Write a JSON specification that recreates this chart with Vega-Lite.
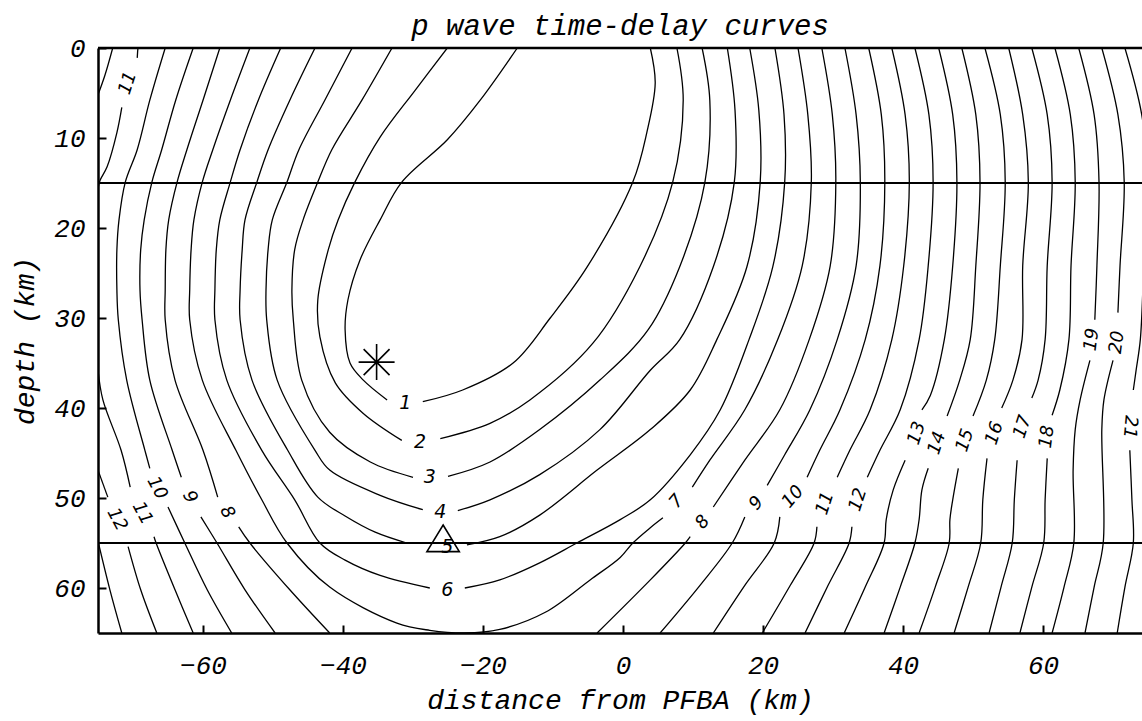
{
"$schema":"https://vega.github.io/schema/vega-lite/v6.json",
"autosize":{"type":"none"},
"padding":{"left":98,"top":48,"right":0,"bottom":88},
"width":1044,"height":585,
"background":"white",
"config":{"view":{"stroke":null},
"axis":{"domainColor":"black","domainWidth":2.5,"tickColor":"black","tickWidth":2,"tickSize":-8,"grid":false,"labelFont":"Liberation Mono","labelFontStyle":"italic","labelFontSize":26,"labelColor":"black","titleFont":"Liberation Mono","titleFontStyle":"italic","titleFontWeight":"normal","titleFontSize":28,"titleColor":"black"}},
"title":{"text":"p wave time-delay curves","font":"Liberation Mono","fontStyle":"italic","fontWeight":"normal","fontSize":29,"color":"black","anchor":"middle","offset":-6},
"datasets":{
"c":[
{"s":"1a","o":0,"x":-15.1,"z":0},{"s":"1a","o":1,"x":-20.4,"z":5.8},{"s":"1a","o":2,"x":-25.1,"z":10.2},{"s":"1a","o":3,"x":-31.6,"z":14.9},{"s":"1a","o":4,"x":-34.7,"z":19.1},{"s":"1a","o":5,"x":-37.6,"z":23.6},{"s":"1a","o":6,"x":-39.3,"z":28},{"s":"1a","o":7,"x":-39.7,"z":31.3},{"s":"1a","o":8,"x":-39,"z":35},{"s":"1a","o":9,"x":-37.1,"z":36.9},{"s":"1a","o":10,"x":-33.7,"z":39.1},
{"s":"1b","o":0,"x":-28.6,"z":39.3},{"s":"1b","o":1,"x":-22.9,"z":38},{"s":"1b","o":2,"x":-15.7,"z":35},{"s":"1b","o":3,"x":-10.4,"z":30},{"s":"1b","o":4,"x":-5.1,"z":24.3},{"s":"1b","o":5,"x":1.4,"z":14.9},{"s":"1b","o":6,"x":3.4,"z":9.4},{"s":"1b","o":7,"x":4.6,"z":3.9},{"s":"1b","o":8,"x":3.9,"z":0},
{"s":"2a","o":0,"x":-25.1,"z":0},{"s":"2a","o":1,"x":-29.7,"z":4.7},{"s":"2a","o":2,"x":-34.7,"z":9.9},{"s":"2a","o":3,"x":-38.3,"z":14.9},{"s":"2a","o":4,"x":-40.7,"z":19.1},{"s":"2a","o":5,"x":-42.1,"z":22.4},{"s":"2a","o":6,"x":-43.6,"z":28},{"s":"2a","o":7,"x":-43.3,"z":32.1},{"s":"2a","o":8,"x":-41.1,"z":37.2},{"s":"2a","o":9,"x":-37.1,"z":40.6},{"s":"2a","o":10,"x":-31.6,"z":43.6},
{"s":"2b","o":0,"x":-26.1,"z":43.4},{"s":"2b","o":1,"x":-19,"z":41.7},{"s":"2b","o":2,"x":-13.3,"z":39.1},{"s":"2b","o":3,"x":-4.3,"z":32.8},{"s":"2b","o":4,"x":2.4,"z":24.3},{"s":"2b","o":5,"x":7.1,"z":14.9},{"s":"2b","o":6,"x":8.6,"z":5.8},{"s":"2b","o":7,"x":7.7,"z":0},
{"s":"3a","o":0,"x":-33,"z":0},{"s":"3a","o":1,"x":-37.3,"z":5.8},{"s":"3a","o":2,"x":-41.6,"z":11.3},{"s":"3a","o":3,"x":-43.6,"z":14.9},{"s":"3a","o":4,"x":-45.7,"z":19.1},{"s":"3a","o":5,"x":-46.9,"z":22.4},{"s":"3a","o":6,"x":-47.3,"z":26.9},{"s":"3a","o":7,"x":-47.1,"z":30.2},{"s":"3a","o":8,"x":-45.9,"z":36.9},{"s":"3a","o":9,"x":-41.9,"z":42.7},{"s":"3a","o":10,"x":-36.1,"z":46},{"s":"3a","o":11,"x":-30,"z":47.7},
{"s":"3b","o":0,"x":-25,"z":47.6},{"s":"3b","o":1,"x":-19,"z":46},{"s":"3b","o":2,"x":-11.9,"z":42.4},{"s":"3b","o":3,"x":-3.3,"z":36.9},{"s":"3b","o":4,"x":3.6,"z":31.3},{"s":"3b","o":5,"x":8.1,"z":24.3},{"s":"3b","o":6,"x":11.7,"z":14.9},{"s":"3b","o":7,"x":12.4,"z":5.8},{"s":"3b","o":8,"x":11.3,"z":0},
{"s":"4a","o":0,"x":-38.7,"z":0},{"s":"4a","o":1,"x":-42.6,"z":5.8},{"s":"4a","o":2,"x":-46.3,"z":11.3},{"s":"4a","o":3,"x":-48,"z":14.9},{"s":"4a","o":4,"x":-50.1,"z":19.1},{"s":"4a","o":5,"x":-50.7,"z":22.4},{"s":"4a","o":6,"x":-51,"z":26.9},{"s":"4a","o":7,"x":-50.9,"z":30.2},{"s":"4a","o":8,"x":-49.4,"z":36.9},{"s":"4a","o":9,"x":-44,"z":44.7},{"s":"4a","o":10,"x":-41.9,"z":46.9},{"s":"4a","o":11,"x":-34.7,"z":49.7},{"s":"4a","o":12,"x":-28.6,"z":51.3},
{"s":"4b","o":0,"x":-23.6,"z":51.4},{"s":"4b","o":1,"x":-19,"z":50.2},{"s":"4b","o":2,"x":-11.9,"z":47.4},{"s":"4b","o":3,"x":-3.3,"z":42.4},{"s":"4b","o":4,"x":3.9,"z":35.8},{"s":"4b","o":5,"x":8.1,"z":32.4},{"s":"4b","o":6,"x":12.9,"z":24.3},{"s":"4b","o":7,"x":15.9,"z":14.9},{"s":"4b","o":8,"x":16,"z":6.9},{"s":"4b","o":9,"x":14.9,"z":0},
{"s":"5a","o":0,"x":-44,"z":0},{"s":"5a","o":1,"x":-47.6,"z":5.8},{"s":"5a","o":2,"x":-50.7,"z":11.3},{"s":"5a","o":3,"x":-52.3,"z":14.9},{"s":"5a","o":4,"x":-54,"z":19.1},{"s":"5a","o":5,"x":-54.4,"z":22.4},{"s":"5a","o":6,"x":-54.7,"z":26.9},{"s":"5a","o":7,"x":-54.7,"z":30.2},{"s":"5a","o":8,"x":-53,"z":36.9},{"s":"5a","o":9,"x":-47.9,"z":44.7},{"s":"5a","o":10,"x":-43.6,"z":49.9},{"s":"5a","o":11,"x":-39.7,"z":52},{"s":"5a","o":12,"x":-35.4,"z":53.8},{"s":"5a","o":13,"x":-30.9,"z":55},
{"s":"5b","o":0,"x":-22.3,"z":55.2},{"s":"5b","o":1,"x":-17.6,"z":54.3},{"s":"5b","o":2,"x":-11.9,"z":51.9},{"s":"5b","o":3,"x":-3.7,"z":46.9},{"s":"5b","o":4,"x":3.9,"z":42.4},{"s":"5b","o":5,"x":9.6,"z":38},{"s":"5b","o":6,"x":13.4,"z":32.4},{"s":"5b","o":7,"x":17.7,"z":24.3},{"s":"5b","o":8,"x":19.6,"z":14.9},{"s":"5b","o":9,"x":19.4,"z":6.9},{"s":"5b","o":10,"x":18.1,"z":0},
{"s":"6a","o":0,"x":-48.9,"z":0},{"s":"6a","o":1,"x":-52.1,"z":5.8},{"s":"6a","o":2,"x":-54.7,"z":11.3},{"s":"6a","o":3,"x":-56.1,"z":14.9},{"s":"6a","o":4,"x":-57.6,"z":19.1},{"s":"6a","o":5,"x":-58.1,"z":22.4},{"s":"6a","o":6,"x":-58.3,"z":26.9},{"s":"6a","o":7,"x":-58.3,"z":30.2},{"s":"6a","o":8,"x":-56.6,"z":36.9},{"s":"6a","o":9,"x":-51.6,"z":44.7},{"s":"6a","o":10,"x":-46.9,"z":50.2},{"s":"6a","o":11,"x":-43.3,"z":55},{"s":"6a","o":12,"x":-39.7,"z":56.9},{"s":"6a","o":13,"x":-34.7,"z":58.6},{"s":"6a","o":14,"x":-27.6,"z":60},
{"s":"6b","o":0,"x":-22.6,"z":60},{"s":"6b","o":1,"x":-17.6,"z":59.1},{"s":"6b","o":2,"x":-11.9,"z":57.2},{"s":"6b","o":3,"x":-6.6,"z":55},{"s":"6b","o":4,"x":-0.4,"z":52.4},{"s":"6b","o":5,"x":3.9,"z":50.2},{"s":"6b","o":6,"x":9.6,"z":45.2},{"s":"6b","o":7,"x":13.9,"z":40.2},{"s":"6b","o":8,"x":18,"z":32.4},{"s":"6b","o":9,"x":21.4,"z":24.3},{"s":"6b","o":10,"x":23.1,"z":14.9},{"s":"6b","o":11,"x":23,"z":7.4},{"s":"6b","o":12,"x":21.7,"z":0},
{"s":"7a","o":0,"x":-53.3,"z":0},{"s":"7a","o":1,"x":-56.1,"z":5.8},{"s":"7a","o":2,"x":-58.6,"z":11.3},{"s":"7a","o":3,"x":-60.1,"z":14.9},{"s":"7a","o":4,"x":-61.3,"z":19.1},{"s":"7a","o":5,"x":-61.7,"z":22.4},{"s":"7a","o":6,"x":-61.9,"z":26.9},{"s":"7a","o":7,"x":-61.9,"z":30.2},{"s":"7a","o":8,"x":-60.1,"z":36.9},{"s":"7a","o":9,"x":-55.3,"z":44.7},{"s":"7a","o":10,"x":-51.6,"z":50.2},{"s":"7a","o":11,"x":-48,"z":55},{"s":"7a","o":12,"x":-41.9,"z":59.9},{"s":"7a","o":13,"x":-32.3,"z":63.9},{"s":"7a","o":14,"x":-27.6,"z":64.7},{"s":"7a","o":15,"x":-22.6,"z":65},{"s":"7a","o":16,"x":-17.6,"z":64.6},{"s":"7a","o":17,"x":-11.1,"z":62.7},{"s":"7a","o":18,"x":-4.7,"z":59.1},{"s":"7a","o":19,"x":-0.4,"z":56.6},{"s":"7a","o":20,"x":1.4,"z":55},{"s":"7a","o":21,"x":3.9,"z":53.3},{"s":"7a","o":22,"x":5.7,"z":52.2},
{"s":"7b","o":0,"x":9.9,"z":48.8},{"s":"7b","o":1,"x":12.4,"z":45.8},{"s":"7b","o":2,"x":17.4,"z":40.2},{"s":"7b","o":3,"x":22.1,"z":32.4},{"s":"7b","o":4,"x":25.6,"z":24.2},{"s":"7b","o":5,"x":26.9,"z":14.9},{"s":"7b","o":6,"x":26.4,"z":7.4},{"s":"7b","o":7,"x":25,"z":0},
{"s":"8a","o":0,"x":-57.6,"z":0},{"s":"8a","o":1,"x":-60,"z":5.8},{"s":"8a","o":2,"x":-62.3,"z":11.3},{"s":"8a","o":3,"x":-63.7,"z":14.9},{"s":"8a","o":4,"x":-64.9,"z":19.1},{"s":"8a","o":5,"x":-65.3,"z":22.4},{"s":"8a","o":6,"x":-65.4,"z":26.9},{"s":"8a","o":7,"x":-65.4,"z":30.2},{"s":"8a","o":8,"x":-64,"z":36.9},{"s":"8a","o":9,"x":-60,"z":44.7},{"s":"8a","o":10,"x":-57.9,"z":49.9},
{"s":"8b","o":0,"x":-54.9,"z":53.2},{"s":"8b","o":1,"x":-53.3,"z":55},{"s":"8b","o":2,"x":-47.6,"z":60.2},{"s":"8b","o":3,"x":-41.9,"z":65},
{"s":"8c","o":0,"x":-3.7,"z":65},{"s":"8c","o":1,"x":3.9,"z":59.1},{"s":"8c","o":2,"x":8.9,"z":55},{"s":"8c","o":3,"x":9.6,"z":54.3},
{"s":"8d","o":0,"x":12.9,"z":51},{"s":"8d","o":1,"x":17.4,"z":45.8},{"s":"8d","o":2,"x":22.4,"z":40.2},{"s":"8d","o":3,"x":26.6,"z":32.4},{"s":"8d","o":4,"x":29.6,"z":24.2},{"s":"8d","o":5,"x":30.4,"z":14.9},{"s":"8d","o":6,"x":29.9,"z":7.4},{"s":"8d","o":7,"x":28.4,"z":0},
{"s":"9a","o":0,"x":-61.4,"z":0},{"s":"9a","o":1,"x":-63.9,"z":5.8},{"s":"9a","o":2,"x":-65.9,"z":11.3},{"s":"9a","o":3,"x":-67.3,"z":14.9},{"s":"9a","o":4,"x":-68.4,"z":19.1},{"s":"9a","o":5,"x":-68.9,"z":22.4},{"s":"9a","o":6,"x":-69,"z":26.9},{"s":"9a","o":7,"x":-68.7,"z":30.2},{"s":"9a","o":8,"x":-67.6,"z":36.9},{"s":"9a","o":9,"x":-64.4,"z":44.7},{"s":"9a","o":10,"x":-63.1,"z":47.7},
{"s":"9b","o":0,"x":-60.3,"z":52.1},{"s":"9b","o":1,"x":-58,"z":55},{"s":"9b","o":2,"x":-54,"z":60.2},{"s":"9b","o":3,"x":-49.7,"z":65},
{"s":"9c","o":0,"x":5.3,"z":65},{"s":"9c","o":1,"x":11,"z":59.7},{"s":"9c","o":2,"x":15.6,"z":55},{"s":"9c","o":3,"x":17.4,"z":52.1},
{"s":"9d","o":0,"x":20.6,"z":48.6},{"s":"9d","o":1,"x":23.1,"z":45.2},{"s":"9d","o":2,"x":26.7,"z":40.2},{"s":"9d","o":3,"x":30.6,"z":32.4},{"s":"9d","o":4,"x":33.3,"z":24.2},{"s":"9d","o":5,"x":33.9,"z":14.9},{"s":"9d","o":6,"x":33.3,"z":7.4},{"s":"9d","o":7,"x":31.7,"z":0},
{"s":"10a","o":0,"x":-65.4,"z":0},{"s":"10a","o":1,"x":-67.6,"z":5.8},{"s":"10a","o":2,"x":-69.4,"z":11.3},{"s":"10a","o":3,"x":-71.1,"z":14.9},{"s":"10a","o":4,"x":-72,"z":19.1},{"s":"10a","o":5,"x":-72.3,"z":22.4},{"s":"10a","o":6,"x":-72.3,"z":26.9},{"s":"10a","o":7,"x":-72.1,"z":30.2},{"s":"10a","o":8,"x":-70.9,"z":36.9},{"s":"10a","o":9,"x":-68.3,"z":44.7},{"s":"10a","o":10,"x":-67.6,"z":46.7},
{"s":"10b","o":0,"x":-65,"z":51},{"s":"10b","o":1,"x":-62.6,"z":55},{"s":"10b","o":2,"x":-59.4,"z":60.2},{"s":"10b","o":3,"x":-55.9,"z":65},
{"s":"10c","o":0,"x":12.9,"z":65},{"s":"10c","o":1,"x":17.4,"z":59.7},{"s":"10c","o":2,"x":21.6,"z":55},{"s":"10c","o":3,"x":22.4,"z":52.1},
{"s":"10d","o":0,"x":26.3,"z":47.7},{"s":"10d","o":1,"x":28.1,"z":44.7},{"s":"10d","o":2,"x":31,"z":40.2},{"s":"10d","o":3,"x":34.6,"z":32.4},{"s":"10d","o":4,"x":36.7,"z":24.2},{"s":"10d","o":5,"x":37.4,"z":14.9},{"s":"10d","o":6,"x":36.9,"z":7.4},{"s":"10d","o":7,"x":35.1,"z":0},
{"s":"11a","o":0,"x":-69.3,"z":0},{"s":"11a","o":1,"x":-69.4,"z":1.1},
{"s":"11b","o":0,"x":-71.6,"z":6.6},{"s":"11b","o":1,"x":-72.3,"z":9.4},{"s":"11b","o":2,"x":-73.7,"z":13.2},{"s":"11b","o":3,"x":-74.7,"z":14.7},{"s":"11b","o":4,"x":-75,"z":15.6},
{"s":"11c","o":0,"x":-75,"z":35.8},{"s":"11c","o":1,"x":-74.3,"z":39.1},{"s":"11c","o":2,"x":-71.7,"z":44.7},{"s":"11c","o":3,"x":-70.4,"z":48.8},
{"s":"11d","o":0,"x":-67,"z":54.3},{"s":"11d","o":1,"x":-66.7,"z":55},{"s":"11d","o":2,"x":-64,"z":60.2},{"s":"11d","o":3,"x":-61.4,"z":65},
{"s":"11e","o":0,"x":19.9,"z":65},{"s":"11e","o":1,"x":23.9,"z":59.7},{"s":"11e","o":2,"x":27.3,"z":55},{"s":"11e","o":3,"x":27.7,"z":53.2},
{"s":"11f","o":0,"x":30.6,"z":47.7},{"s":"11f","o":1,"x":32.4,"z":44.7},{"s":"11f","o":2,"x":35.3,"z":40.2},{"s":"11f","o":3,"x":38.4,"z":32.4},{"s":"11f","o":4,"x":40.1,"z":24.2},{"s":"11f","o":5,"x":40.9,"z":14.9},{"s":"11f","o":6,"x":40.3,"z":7.4},{"s":"11f","o":7,"x":38.4,"z":0},
{"s":"12a","o":0,"x":-72.9,"z":0},{"s":"12a","o":1,"x":-74,"z":3},{"s":"12a","o":2,"x":-75,"z":5.2},
{"s":"12b","o":0,"x":-75,"z":46.9},{"s":"12b","o":1,"x":-73.6,"z":49.9},
{"s":"12c","o":0,"x":-70.7,"z":55.4},{"s":"12c","o":1,"x":-68.9,"z":60.2},{"s":"12c","o":2,"x":-66.6,"z":65},
{"s":"12d","o":0,"x":26,"z":65},{"s":"12d","o":1,"x":29.3,"z":59.7},{"s":"12d","o":2,"x":32.3,"z":55},{"s":"12d","o":3,"x":32.7,"z":53.2},
{"s":"12e","o":0,"x":34.9,"z":47.7},{"s":"12e","o":1,"x":36.7,"z":44.7},{"s":"12e","o":2,"x":39.6,"z":40.2},{"s":"12e","o":3,"x":42.3,"z":32.4},{"s":"12e","o":4,"x":43.6,"z":24.2},{"s":"12e","o":5,"x":44.3,"z":14.9},{"s":"12e","o":6,"x":43.7,"z":7.4},{"s":"12e","o":7,"x":41.7,"z":0},
{"s":"13a","o":0,"x":-75,"z":54.8},{"s":"13a","o":1,"x":-73.3,"z":60.2},{"s":"13a","o":2,"x":-71.6,"z":65},
{"s":"13b","o":0,"x":31.6,"z":65},{"s":"13b","o":1,"x":34.6,"z":59.9},{"s":"13b","o":2,"x":37.3,"z":55},{"s":"13b","o":3,"x":37.6,"z":52.4},{"s":"13b","o":4,"x":38.6,"z":49.1},{"s":"13b","o":5,"x":40.3,"z":45.8},
{"s":"13c","o":0,"x":42.7,"z":40.2},{"s":"13c","o":1,"x":43.9,"z":38.6},{"s":"13c","o":2,"x":45.9,"z":32.4},{"s":"13c","o":3,"x":47.1,"z":24.2},{"s":"13c","o":4,"x":47.7,"z":14.9},{"s":"13c","o":5,"x":47.1,"z":7.4},{"s":"13c","o":6,"x":45.1,"z":0},
{"s":"14a","o":0,"x":37.3,"z":65},{"s":"14a","o":1,"x":39.6,"z":59.9},{"s":"14a","o":2,"x":41.7,"z":55},{"s":"14a","o":3,"x":42.3,"z":52.4},{"s":"14a","o":4,"x":42.7,"z":49.1},{"s":"14a","o":5,"x":43.6,"z":46.7},
{"s":"14b","o":0,"x":46.3,"z":40.9},{"s":"14b","o":1,"x":48.1,"z":36.9},{"s":"14b","o":2,"x":49.6,"z":32.4},{"s":"14b","o":3,"x":50.4,"z":24.2},{"s":"14b","o":4,"x":51,"z":14.9},{"s":"14b","o":5,"x":50.4,"z":7.4},{"s":"14b","o":6,"x":48.4,"z":0},
{"s":"15a","o":0,"x":42.3,"z":65},{"s":"15a","o":1,"x":44.6,"z":59.9},{"s":"15a","o":2,"x":46.6,"z":55},{"s":"15a","o":3,"x":46.7,"z":52.4},{"s":"15a","o":4,"x":47.1,"z":50.2},{"s":"15a","o":5,"x":47.9,"z":46.7},
{"s":"15b","o":0,"x":50,"z":40.9},{"s":"15b","o":1,"x":51.9,"z":36.9},{"s":"15b","o":2,"x":53.1,"z":32.4},{"s":"15b","o":3,"x":53.9,"z":24.2},{"s":"15b","o":4,"x":54.6,"z":14.9},{"s":"15b","o":5,"x":53.9,"z":7.4},{"s":"15b","o":6,"x":51.7,"z":0},
{"s":"16a","o":0,"x":47.3,"z":65},{"s":"16a","o":1,"x":49.3,"z":59.9},{"s":"16a","o":2,"x":51.1,"z":55},{"s":"16a","o":3,"x":51.4,"z":50.2},{"s":"16a","o":4,"x":52,"z":45.6},
{"s":"16b","o":0,"x":54.1,"z":40},{"s":"16b","o":1,"x":55.7,"z":36.9},{"s":"16b","o":2,"x":57,"z":32.4},{"s":"16b","o":3,"x":57.1,"z":24.2},{"s":"16b","o":4,"x":57.9,"z":14.9},{"s":"16b","o":5,"x":57.1,"z":7.4},{"s":"16b","o":6,"x":55.1,"z":0},
{"s":"17a","o":0,"x":52.3,"z":65},{"s":"17a","o":1,"x":54,"z":59.9},{"s":"17a","o":2,"x":55.6,"z":55},{"s":"17a","o":3,"x":55.9,"z":50.2},{"s":"17a","o":4,"x":56.3,"z":45.8},
{"s":"17b","o":0,"x":58.4,"z":38.9},{"s":"17b","o":1,"x":59.3,"z":36.9},{"s":"17b","o":2,"x":60.3,"z":32.4},{"s":"17b","o":3,"x":60.6,"z":24.2},{"s":"17b","o":4,"x":61.3,"z":14.9},{"s":"17b","o":5,"x":60.6,"z":7.4},{"s":"17b","o":6,"x":58.4,"z":0},
{"s":"18a","o":0,"x":56.7,"z":65},{"s":"18a","o":1,"x":58.4,"z":59.9},{"s":"18a","o":2,"x":60.1,"z":55},{"s":"18a","o":3,"x":60.3,"z":50.2},{"s":"18a","o":4,"x":60.6,"z":45.6},
{"s":"18b","o":0,"x":61.3,"z":40.8},{"s":"18b","o":1,"x":62.4,"z":38},{"s":"18b","o":2,"x":63.7,"z":32.4},{"s":"18b","o":3,"x":64,"z":24.2},{"s":"18b","o":4,"x":64.6,"z":14.9},{"s":"18b","o":5,"x":63.9,"z":7.4},{"s":"18b","o":6,"x":61.7,"z":0},
{"s":"19a","o":0,"x":61.3,"z":65},{"s":"19a","o":1,"x":63,"z":59.9},{"s":"19a","o":2,"x":64.4,"z":55},{"s":"19a","o":3,"x":64.3,"z":46.9},{"s":"19a","o":4,"x":64.6,"z":42.4},{"s":"19a","o":5,"x":65.3,"z":39.1},{"s":"19a","o":6,"x":66.7,"z":34.7},
{"s":"19b","o":0,"x":67.4,"z":30.2},{"s":"19b","o":1,"x":67.7,"z":24.2},{"s":"19b","o":2,"x":68,"z":14.9},{"s":"19b","o":3,"x":67.3,"z":7.4},{"s":"19b","o":4,"x":65.1,"z":0},
{"s":"20a","o":0,"x":66,"z":65},{"s":"20a","o":1,"x":67.3,"z":59.9},{"s":"20a","o":2,"x":68.6,"z":55},{"s":"20a","o":3,"x":68.4,"z":42.4},{"s":"20a","o":4,"x":68.7,"z":39.1},{"s":"20a","o":5,"x":70,"z":34.7},
{"s":"20b","o":0,"x":70.7,"z":29.4},{"s":"20b","o":1,"x":71,"z":24.2},{"s":"20b","o":2,"x":71.6,"z":14.9},{"s":"20b","o":3,"x":70.7,"z":7.4},{"s":"20b","o":4,"x":68.4,"z":0},
{"s":"21a","o":0,"x":70.6,"z":65},{"s":"21a","o":1,"x":71.7,"z":59.9},{"s":"21a","o":2,"x":72.9,"z":55},{"s":"21a","o":3,"x":72.7,"z":50.2},{"s":"21a","o":4,"x":72.4,"z":44.7},
{"s":"21b","o":0,"x":72.9,"z":38},{"s":"21b","o":1,"x":73.3,"z":35.8},{"s":"21b","o":2,"x":73.9,"z":32.4},{"s":"21b","o":3,"x":74.4,"z":24.2},{"s":"21b","o":4,"x":75,"z":14.9},{"s":"21b","o":5,"x":74.1,"z":7.4},{"s":"21b","o":6,"x":71.7,"z":0}
],
"lab0":[{"t":"1","x":-31.1,"z":39.4},{"t":"2","x":-29,"z":43.8},{"t":"3","x":-27.6,"z":47.7},{"t":"4","x":-26.1,"z":51.6},{"t":"5","x":-25.1,"z":55.4},{"t":"6","x":-25.1,"z":60.2}],
"labA":[{"t":"7","x":7.7,"z":50.4},{"t":"8","x":11.4,"z":52.7},{"t":"9","x":19.1,"z":50.6},{"t":"10","x":24.3,"z":49.9}],
"labB":[{"t":"11","x":28.9,"z":50.6},{"t":"12","x":33.6,"z":50.2},{"t":"13","x":42,"z":42.8},{"t":"14","x":44.9,"z":43.9},{"t":"15","x":48.9,"z":43.6},{"t":"16","x":53.1,"z":42.8},{"t":"17","x":57.1,"z":42.1},{"t":"11","x":-70.7,"z":3.9}],
"labC":[{"t":"18","x":60.6,"z":43.2},{"t":"19","x":67,"z":32.4},{"t":"20","x":70.6,"z":32.7}],
"labD":[{"t":"21","x":72.4,"z":42.1}],
"labE":[{"t":"8","x":-56.6,"z":51.6},{"t":"9","x":-61.9,"z":49.9},{"t":"10","x":-66.6,"z":48.9},{"t":"11","x":-68.7,"z":51.7},{"t":"12","x":-72.3,"z":52.4}],
"star":[{"x":-35.2,"z":34.9}],
"tri":[{"x":-25.7,"z":55}],
"h":[{"z":15},{"z":55}],
"top":[{"z":0}]
},
"layer":[
{"data":{"name":"c"},"mark":{"type":"line","color":"black","strokeWidth":1.3,"clip":true,"interpolate":"catmull-rom"},
 "encoding":{
  "x":{"field":"x","type":"quantitative","scale":{"domain":[-75,74.14],"nice":false,"zero":false},
       "axis":{"values":[-60,-40,-20,0,20,40,60],"title":"distance from PFBA (km)","labelPadding":27,"titlePadding":8}},
  "y":{"field":"z","type":"quantitative","scale":{"domain":[0,65],"reverse":true,"nice":false,"zero":false},
       "axis":{"values":[0,10,20,30,40,50,60],"title":"depth (km)","labelPadding":21,"titlePadding":14}},
  "detail":{"field":"s"},"order":{"field":"o"}}},
{"data":{"name":"h"},"mark":{"type":"rule","color":"black","strokeWidth":1.8},"encoding":{"y":{"field":"z","type":"quantitative"}}},
{"data":{"name":"top"},"mark":{"type":"rule","color":"black","strokeWidth":2.6},"encoding":{"y":{"field":"z","type":"quantitative"}}},
{"data":{"name":"lab0"},"mark":{"type":"text","font":"DejaVu Sans","fontStyle":"italic","fontSize":19,"color":"black","angle":0},"encoding":{"x":{"field":"x","type":"quantitative"},"y":{"field":"z","type":"quantitative"},"text":{"field":"t"}}},
{"data":{"name":"labA"},"mark":{"type":"text","font":"DejaVu Sans","fontStyle":"italic","fontSize":18,"color":"black","angle":310},"encoding":{"x":{"field":"x","type":"quantitative"},"y":{"field":"z","type":"quantitative"},"text":{"field":"t"}}},
{"data":{"name":"labB"},"mark":{"type":"text","font":"DejaVu Sans","fontStyle":"italic","fontSize":18,"color":"black","angle":288},"encoding":{"x":{"field":"x","type":"quantitative"},"y":{"field":"z","type":"quantitative"},"text":{"field":"t"}}},
{"data":{"name":"labC"},"mark":{"type":"text","font":"DejaVu Sans","fontStyle":"italic","fontSize":18,"color":"black","angle":277},"encoding":{"x":{"field":"x","type":"quantitative"},"y":{"field":"z","type":"quantitative"},"text":{"field":"t"}}},
{"data":{"name":"labD"},"mark":{"type":"text","font":"DejaVu Sans","fontStyle":"italic","fontSize":18,"color":"black","angle":95},"encoding":{"x":{"field":"x","type":"quantitative"},"y":{"field":"z","type":"quantitative"},"text":{"field":"t"}}},
{"data":{"name":"labE"},"mark":{"type":"text","font":"DejaVu Sans","fontStyle":"italic","fontSize":18,"color":"black","angle":62},"encoding":{"x":{"field":"x","type":"quantitative"},"y":{"field":"z","type":"quantitative"},"text":{"field":"t"}}},
{"data":{"name":"star"},"mark":{"type":"point","shape":"M-1,0L1,0M0,-1L0,1M-0.72,-0.72L0.72,0.72M-0.72,0.72L0.72,-0.72","size":1296,"filled":false,"stroke":"black","strokeWidth":1.6,"opacity":1},"encoding":{"x":{"field":"x","type":"quantitative"},"y":{"field":"z","type":"quantitative"}}},
{"data":{"name":"tri"},"mark":{"type":"point","shape":"M0,-1L0.9,0.48L-0.9,0.48Z","size":1296,"filled":false,"stroke":"black","strokeWidth":1.6,"opacity":1},"encoding":{"x":{"field":"x","type":"quantitative"},"y":{"field":"z","type":"quantitative"}}}
]
}
